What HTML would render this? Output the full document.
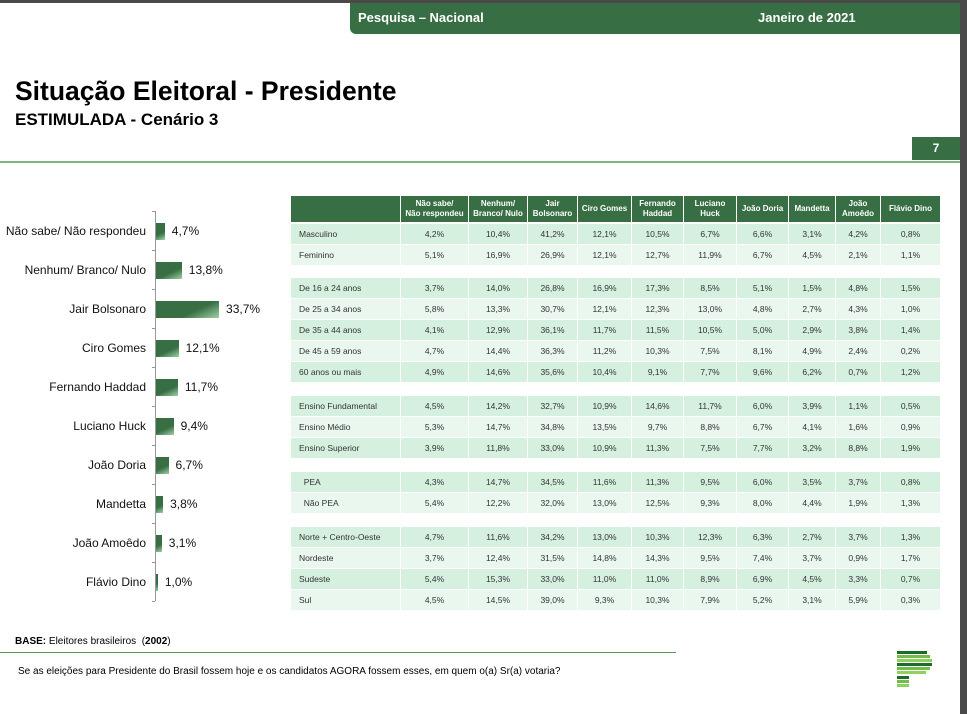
<!DOCTYPE html>
<html><head><meta charset="utf-8">
<style>
body{margin:0;width:967px;height:714px;position:relative;background:#fff;font-family:"Liberation Sans",sans-serif;overflow:hidden}
.abs{position:absolute}
#tbl div{position:absolute;box-sizing:border-box;font-size:8.5px;color:#333;display:flex;align-items:center;justify-content:center}
</style></head><body>
<div class="abs" style="left:0;top:0;width:967px;height:3px;background:#4a4a4a"></div>
<div class="abs" style="left:960px;top:0;width:7px;height:714px;background:#4a4a4a"></div>
<div class="abs" style="left:350px;top:3px;width:610px;height:31px;background:#386e43;border-bottom-left-radius:6px"></div>
<div class="abs" style="left:358px;top:10px;color:#fff;font-weight:bold;font-size:13px">Pesquisa – Nacional</div>
<div class="abs" style="left:758px;top:10px;color:#fff;font-weight:bold;font-size:13px">Janeiro de 2021</div>
<div class="abs" style="left:15px;top:76px;font-weight:bold;font-size:26.5px;color:#000">Situação Eleitoral - Presidente</div>
<div class="abs" style="left:15px;top:110px;font-weight:bold;font-size:17px;color:#000">ESTIMULADA - Cenário 3</div>
<div class="abs" style="left:912px;top:137px;width:48px;height:23px;background:#386e43;color:#fff;font-weight:bold;font-size:12px;line-height:23px;text-align:center">7</div>
<div class="abs" style="left:0;top:161px;width:960px;height:2px;background:#7fb47f"></div>
<div id="chart"></div>
<div id="tbl"></div>
<div class="abs" style="left:15px;top:636px;font-size:10px;color:#000"><b>BASE:</b> Eleitores brasileiros &nbsp;(<b>2002</b>)</div>
<div class="abs" style="left:0;top:652px;width:676px;height:1px;background:#5a9a5a"></div>
<div class="abs" style="left:18px;top:666px;font-size:10px;color:#000">Se as eleições para Presidente do Brasil fossem hoje e os candidatos AGORA fossem esses, em quem o(a) Sr(a) votaria?</div>
<div class="abs" style="left:896px;top:647px;width:40px;height:48px">
<div class="abs" style="left:1px;top:4px;width:30px;height:3px;background:#1f6b2a"></div>
<div class="abs" style="left:1px;top:8px;width:33px;height:3px;background:#6fbf4a"></div>
<div class="abs" style="left:1px;top:12px;width:35px;height:3px;background:#8fd060"></div>
<div class="abs" style="left:1px;top:16px;width:35px;height:3px;background:#1f6b2a"></div>
<div class="abs" style="left:1px;top:20px;width:33px;height:3px;background:#6fbf4a"></div>
<div class="abs" style="left:1px;top:24px;width:29px;height:3px;background:#8fd060"></div>
<div class="abs" style="left:1px;top:29px;width:12px;height:3px;background:#1f6b2a"></div>
<div class="abs" style="left:1px;top:33px;width:12px;height:3px;background:#6fbf4a"></div>
<div class="abs" style="left:1px;top:37px;width:12px;height:3px;background:#8fd060"></div>
</div>
<script>
const candidates=["Não sabe/ Não respondeu","Nenhum/ Branco/ Nulo","Jair Bolsonaro","Ciro Gomes","Fernando Haddad","Luciano Huck","João Doria","Mandetta","João Amoêdo","Flávio Dino"];
const values=[4.7,13.8,33.7,12.1,11.7,9.4,6.7,3.8,3.1,1.0];
const chart=document.getElementById('chart');
const axX=155, y0=211, step=39, pxPer=1.87;
function yPos(i){return y0+step*i+19.5;}
function xLen(v){return v*pxPer;}
function mk(css,name,txt){const d=document.createElement('div');d.className='abs';d.style.cssText=css;if(txt!==undefined)d.textContent=txt;chart.appendChild(d);return d;}
mk(`left:${axX}px;top:${y0}px;width:1px;height:${step*values.length}px;background:#999`,'y-axis');
for(let i=0;i<=values.length;i++){mk(`left:${axX-3}px;top:${y0+step*i}px;width:3px;height:1px;background:#999`,'y-tick');}
values.forEach((v,i)=>{
 const cy=yPos(i);
 const w=xLen(v);
 mk(`left:${axX+1}px;top:${cy-8}px;width:${w}px;height:17px;background:linear-gradient(155deg,#386e43 60%,#9fd1a8)`,'bar');
 mk(`right:${967-146}px;top:${cy-7}px;font-size:12px;color:#111;white-space:nowrap`,'category-label',candidates[i]);
 mk(`left:${axX+w+8}px;top:${cy-7}px;font-size:12px;color:#111`,'value-label',values[i].toFixed(1).replace('.',',')+'%');
});
const headers=["Não sabe/<br>Não respondeu","Nenhum/<br>Branco/ Nulo","Jair<br>Bolsonaro","Ciro Gomes","Fernando<br>Haddad","Luciano<br>Huck","João Doria","Mandetta","João<br>Amoêdo","Flávio Dino"];
const rowLabels=["Masculino","Feminino","De 16 a 24 anos","De 25 a 34 anos","De 35 a 44 anos","De 45 a 59 anos","60 anos ou mais","Ensino Fundamental","Ensino Médio","Ensino Superior","  PEA","  Não PEA","Norte + Centro-Oeste","Nordeste","Sudeste","Sul"];
const rowGroups=[0,0,1,1,1,1,1,2,2,2,3,3,4,4,4,4];
const cells=[
[4.2,10.4,41.2,12.1,10.5,6.7,6.6,3.1,4.2,0.8],
[5.1,16.9,26.9,12.1,12.7,11.9,6.7,4.5,2.1,1.1],
[3.7,14.0,26.8,16.9,17.3,8.5,5.1,1.5,4.8,1.5],
[5.8,13.3,30.7,12.1,12.3,13.0,4.8,2.7,4.3,1.0],
[4.1,12.9,36.1,11.7,11.5,10.5,5.0,2.9,3.8,1.4],
[4.7,14.4,36.3,11.2,10.3,7.5,8.1,4.9,2.4,0.2],
[4.9,14.6,35.6,10.4,9.1,7.7,9.6,6.2,0.7,1.2],
[4.5,14.2,32.7,10.9,14.6,11.7,6.0,3.9,1.1,0.5],
[5.3,14.7,34.8,13.5,9.7,8.8,6.7,4.1,1.6,0.9],
[3.9,11.8,33.0,10.9,11.3,7.5,7.7,3.2,8.8,1.9],
[4.3,14.7,34.5,11.6,11.3,9.5,6.0,3.5,3.7,0.8],
[5.4,12.2,32.0,13.0,12.5,9.3,8.0,4.4,1.9,1.3],
[4.7,11.6,34.2,13.0,10.3,12.3,6.3,2.7,3.7,1.3],
[3.7,12.4,31.5,14.8,14.3,9.5,7.4,3.7,0.9,1.7],
[5.4,15.3,33.0,11.0,11.0,8.9,6.9,4.5,3.3,0.7],
[4.5,14.5,39.0,9.3,10.3,7.9,5.2,3.1,5.9,0.3]];
const colB=[291,401,469,528,578,632,684,737,789,836,881,941];
const groupTop=[224,278,396,472,527];
const tbl=document.getElementById('tbl');
function cell(x,y,w,h,bg,html,name,left){const d=document.createElement('div');d.style.cssText=`left:${x}px;top:${y}px;width:${w}px;height:${h}px;background:${bg};`+(left?'justify-content:flex-start;padding-left:8px;white-space:pre;':'');d.innerHTML=html;tbl.appendChild(d);return d;}
cell(colB[0],196,colB[1]-colB[0]-1,26,'#386e43','','header-corner');
headers.forEach((h,j)=>{const d=cell(colB[j+1],196,colB[j+2]-colB[j+1]-1,26,'#386e43',h,'column-header');d.style.color='#fff';d.style.fontWeight='bold';d.style.fontSize='8px';d.style.textAlign='center';d.style.lineHeight='10px';});
let prevG=-1,idx=0;
rowLabels.forEach((lab,r)=>{
 const g=rowGroups[r];
 if(g!==prevG){idx=0;prevG=g;}
 const y=groupTop[g]+idx*21;
 const bg=(idx%2===0)?'#d6f0e0':'#eaf7ef';
 cell(colB[0],y,colB[1]-colB[0]-1,20,bg,lab,'row-label',true);
 cells[r].forEach((v,j)=>{cell(colB[j+1],y,colB[j+2]-colB[j+1]-1,20,bg,v.toFixed(1).replace('.',',')+'%','table-cell');});
 idx++;
});
</script>
</body></html>
